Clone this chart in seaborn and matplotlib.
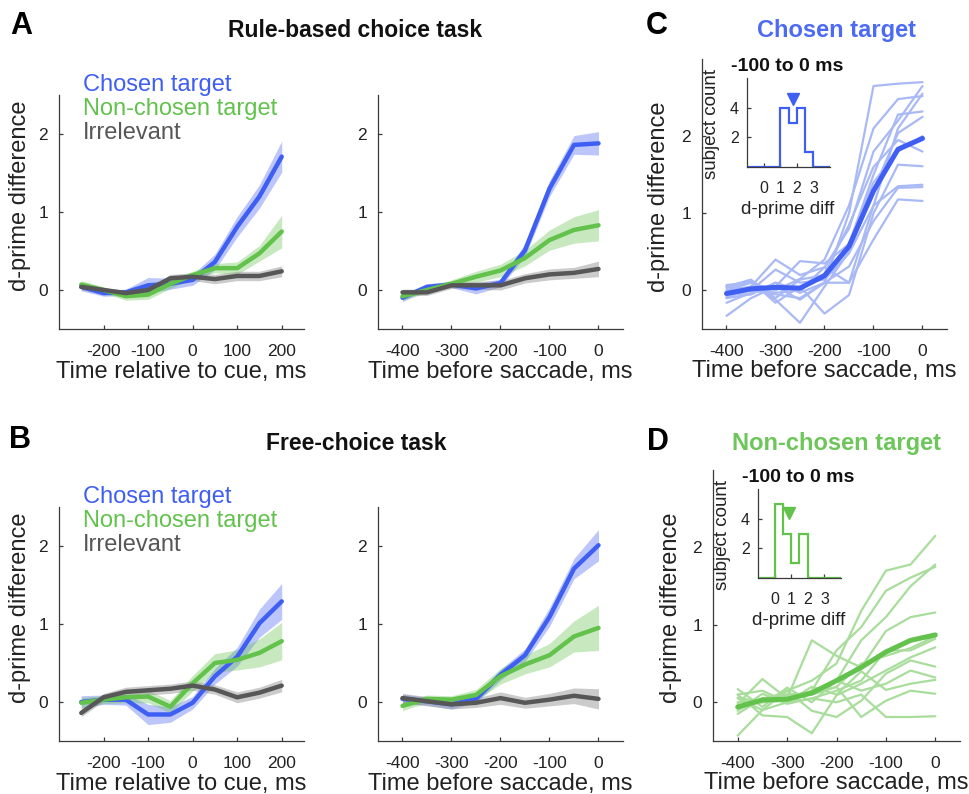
import numpy as np
import pandas as pd
import matplotlib
matplotlib.use('Agg')
import matplotlib.pyplot as plt
import seaborn as sns

# style
sns.set_style('ticks')
plt.rcParams['font.family'] = ['Liberation Sans', 'DejaVu Sans']
plt.rcParams['axes.unicode_minus'] = False

# time axes
t_cue = [-250, -200, -150, -100, -50, 0, 50, 100, 150, 200]
t_sac = [-400, -350, -300, -250, -200, -150, -100, -50, 0]

series_names = ['Chosen target', 'Non-chosen target', 'Irrelevant']

# rule-based task, cue aligned (mean, sem)
rule_cue_chosen = [0.04, -0.04, -0.03, 0.06, 0.08, 0.13, 0.36, 0.81, 1.20, 1.71]
rule_cue_chosen_sem = [0.05, 0.04, 0.04, 0.10, 0.07, 0.07, 0.10, 0.13, 0.15, 0.20]
rule_cue_nonchosen = [0.07, 0.00, -0.08, -0.06, 0.08, 0.19, 0.28, 0.28, 0.47, 0.75]
rule_cue_nonchosen_sem = [0.05, 0.04, 0.05, 0.06, 0.06, 0.05, 0.06, 0.08, 0.10, 0.21]
rule_cue_irrel = [0.04, 0.00, -0.04, 0.00, 0.15, 0.17, 0.14, 0.18, 0.18, 0.24]
rule_cue_irrel_sem = [0.04, 0.03, 0.04, 0.04, 0.05, 0.05, 0.06, 0.06, 0.06, 0.07]

# rule-based task, saccade aligned
rule_sac_chosen = [-0.10, 0.04, 0.07, 0.02, 0.09, 0.51, 1.30, 1.86, 1.88]
rule_sac_chosen_sem = [0.05, 0.04, 0.04, 0.07, 0.05, 0.08, 0.10, 0.12, 0.15]
rule_sac_nonchosen = [-0.08, 0.00, 0.08, 0.17, 0.25, 0.41, 0.64, 0.77, 0.83]
rule_sac_nonchosen_sem = [0.05, 0.04, 0.05, 0.07, 0.08, 0.10, 0.13, 0.17, 0.20]
rule_sac_irrel = [-0.03, -0.03, 0.06, 0.06, 0.06, 0.15, 0.20, 0.22, 0.27]
rule_sac_irrel_sem = [0.04, 0.04, 0.04, 0.05, 0.06, 0.06, 0.07, 0.07, 0.10]

# free-choice task, cue aligned
free_cue_chosen = [0.00, 0.03, 0.03, -0.16, -0.16, -0.01, 0.33, 0.58, 1.01, 1.29]
free_cue_chosen_sem = [0.08, 0.06, 0.07, 0.13, 0.10, 0.08, 0.10, 0.12, 0.18, 0.23]
free_cue_nonchosen = [-0.01, 0.03, 0.06, 0.07, -0.06, 0.24, 0.50, 0.54, 0.63, 0.78]
free_cue_nonchosen_sem = [0.07, 0.05, 0.07, 0.08, 0.08, 0.10, 0.12, 0.13, 0.18, 0.24]
free_cue_irrel = [-0.14, 0.06, 0.13, 0.15, 0.17, 0.21, 0.16, 0.06, 0.12, 0.21]
free_cue_irrel_sem = [0.05, 0.05, 0.06, 0.06, 0.06, 0.06, 0.06, 0.07, 0.07, 0.08]

# free-choice task, saccade aligned
free_sac_chosen = [0.04, 0.01, -0.03, 0.04, 0.35, 0.60, 1.09, 1.71, 2.01]
free_sac_chosen_sem = [0.06, 0.05, 0.06, 0.05, 0.07, 0.08, 0.12, 0.13, 0.20]
free_sac_nonchosen = [-0.05, 0.04, 0.03, 0.09, 0.33, 0.48, 0.60, 0.84, 0.95]
free_sac_nonchosen_sem = [0.06, 0.05, 0.05, 0.07, 0.10, 0.12, 0.15, 0.20, 0.29]
free_sac_irrel = [0.05, 0.01, -0.03, -0.01, 0.05, -0.01, 0.03, 0.08, 0.04]
free_sac_irrel_sem = [0.06, 0.06, 0.06, 0.06, 0.08, 0.07, 0.08, 0.10, 0.13]

# individual subjects, chosen target (panel C)
chosen_subjects = [
    [0.05, 0.00, -0.05, -0.10, 0.10, 1.00, 2.65, 2.68, 2.70],
    [-0.10, 0.05, 0.40, 0.20, 0.30, 0.80, 1.80, 2.20, 2.65],
    [0.00, 0.10, 0.00, 0.15, 0.40, 1.10, 2.10, 2.48, 2.52],
    [-0.33, -0.10, 0.05, 0.38, 0.35, 0.60, 1.50, 2.28, 2.32],
    [0.07, 0.10, -0.12, -0.42, 0.05, 0.50, 1.30, 2.04, 2.25],
    [-0.05, -0.05, 0.10, 0.00, 0.22, 0.85, 1.60, 1.95, 1.80],
    [0.03, 0.12, -0.16, 0.05, -0.30, -0.06, 1.00, 1.63, 1.61],
    [-0.08, 0.00, 0.27, 0.10, 0.14, 0.48, 1.10, 1.35, 1.37],
    [-0.16, -0.03, 0.05, -0.12, 0.10, 0.31, 0.90, 1.33, 1.34],
    [0.00, 0.05, -0.03, 0.00, 0.30, 0.10, 0.66, 1.18, 1.16],
    [-0.10, -0.05, 0.10, -0.03, 0.10, 0.10, 1.10, 2.10, 2.55],
    [0.05, 0.14, -0.10, 0.14, 0.20, 0.61, 1.40, 1.80, 2.00],
]
chosen_mean = [-0.04, 0.02, 0.04, 0.03, 0.19, 0.57, 1.29, 1.83, 1.97]

# individual subjects, non-chosen target (panel D)
nonchosen_subjects = [
    [-0.43, -0.10, 0.15, 0.28, 0.50, 1.18, 1.70, 1.78, 2.15],
    [0.06, 0.00, 0.02, 0.15, 0.67, 0.97, 1.44, 1.61, 1.75],
    [0.17, -0.06, 0.19, 0.00, 0.28, 0.80, 1.10, 1.50, 1.78],
    [-0.02, 0.30, 0.05, 0.80, 0.60, 0.45, 0.92, 1.10, 1.16],
    [-0.11, 0.11, -0.02, 0.05, 0.15, 0.28, 0.67, 0.67, 0.82],
    [0.10, -0.17, -0.19, -0.40, 0.09, 0.24, 0.41, 0.58, 0.71],
    [0.00, 0.02, 0.15, -0.11, -0.19, 0.02, 0.37, 0.54, 0.46],
    [-0.10, 0.05, 0.10, 0.12, 0.28, 0.15, 0.24, 0.41, 0.32],
    [0.05, -0.10, 0.00, 0.20, 0.10, 0.40, 0.16, 0.24, 0.29],
    [-0.05, 0.00, 0.05, 0.10, 0.20, -0.19, 0.02, 0.15, 0.11],
    [0.10, 0.15, 0.00, 0.05, 0.00, 0.10, -0.19, -0.19, -0.18],
    [-0.15, 0.05, 0.10, 0.10, 0.20, 0.50, 0.60, 0.70, 0.85],
]
nonchosen_mean = [-0.06, 0.03, 0.04, 0.12, 0.28, 0.45, 0.65, 0.80, 0.87]

# inset histograms (-100 to 0 ms), subject counts per 0.5 bin
hist_edges = [-1.0, -0.5, 0.0, 0.5, 1.0, 1.5, 2.0, 2.5, 3.0, 3.5, 4.0]
chosen_counts = [0, 0, 0, 0, 4, 3, 4, 1, 0, 0]
nonchosen_counts = [0, 0, 5, 3, 1, 3, 0, 0, 0, 0]
chosen_hist_mean = 1.79
nonchosen_hist_mean = 0.88

# colours
BLUE = '#3f5ef2'
GREEN = '#62c24c'
GRAY = '#575757'
LIGHT_BLUE = '#a9b9f6'
LIGHT_GREEN = '#a9dd9c'
AXC = '#3a3a3a'

fig = plt.figure(figsize=(9.7, 7.94), dpi=100)


def px_axes(left, top, w, h):
    return fig.add_axes([left / 970, 1 - (top + h) / 794, w / 970, h / 794])


def style_axes(ax, size=12.5, xpad=11, ypad=8):
    sns.despine(ax=ax)
    for s in ['left', 'bottom']:
        ax.spines[s].set_color(AXC)
        ax.spines[s].set_linewidth(0.9)
    ax.tick_params(direction='in', length=3, width=0.9, color=AXC,
                   labelsize=size, labelcolor='#222222')
    ax.tick_params(axis='x', pad=xpad)
    ax.tick_params(axis='y', pad=ypad)


def mean_panel(ax, t, data, xlim, xticks, xlabel, ylabel=True):
    cols = [BLUE, GREEN, GRAY]
    shade_alpha = [0.35, 0.35, 0.45]
    shade_cols = [BLUE, GREEN, '#8c8c8c']
    for (m, s), c, sc, a in zip(data, cols, shade_cols, shade_alpha):
        m = np.array(m)
        s = np.array(s)
        ax.fill_between(t, m - s, m + s, color=sc, alpha=a, lw=0)
        sns.lineplot(x=t, y=m, ax=ax, color=c, lw=3.2)
    ax.set_xlim(*xlim)
    ax.set_ylim(-0.5, 2.5)
    ax.set_xticks(xticks)
    ax.set_yticks([0, 1, 2])
    style_axes(ax)
    ax.set_xlabel(xlabel, fontsize=17, color='#222222', labelpad=2)
    ax.xaxis.set_label_coords(0.5, -0.135)
    if ylabel:
        ax.set_ylabel('d-prime difference', fontsize=17, color='#222222')
        ax.yaxis.set_label_coords(-0.115, 0.57)
    else:
        ax.set_ylabel('')


def legend_text(ax):
    for name, c, y in zip(series_names, [BLUE, GREEN, GRAY], [1.043, 0.94, 0.838]):
        ax.text(0.098, y, name, color=c, fontsize=17, va='center',
                transform=ax.transAxes)


def subject_panel(ax, subjects, mean, light, dark, ylab_x):
    df = pd.DataFrame([(i, t, v) for i, row in enumerate(subjects)
                       for t, v in zip(t_sac, row)],
                      columns=['subject', 'time', 'dprime'])
    sns.lineplot(data=df, x='time', y='dprime', units='subject',
                 estimator=None, color=light, lw=1.6, ax=ax)
    sns.lineplot(x=t_sac, y=mean, color=dark, lw=3.6, ax=ax)
    ax.set_xlim(-450, 50)
    ax.set_ylim(-0.5, 3.0)
    ax.set_xticks([-400, -300, -200, -100, 0])
    ax.set_yticks([0, 1, 2])
    style_axes(ax)
    ax.set_xlabel('Time before saccade, ms', fontsize=17, color='#222222')
    ax.xaxis.set_label_coords(0.5, -0.115)
    ax.set_ylabel('d-prime difference', fontsize=17, color='#222222')
    ax.yaxis.set_label_coords(ylab_x, 0.49)


def hist_inset(ax, counts, mean_val, col, marker_y):
    ax.stairs(counts, hist_edges, color=col, lw=1.6, baseline=0)
    ax.plot([mean_val], [marker_y], marker='v', color=col, ms=9, ls='none')
    ax.set_xlim(-1, 4)
    ax.set_ylim(0, 6)
    ax.set_xticks([0, 1, 2, 3])
    ax.set_yticks([2, 4])
    ax.patch.set_alpha(0)
    style_axes(ax, size=11.5, xpad=10, ypad=6)
    ax.set_title('-100 to 0 ms', fontsize=14, fontweight='bold', x=0.48,
                 pad=5, color='#111111')
    ax.set_ylabel('subject count', fontsize=13.5, color='#222222')
    ax.yaxis.set_label_coords(-0.33, 0.48)
    ax.set_xlabel('d-prime diff', fontsize=13.5, color='#222222')
    ax.xaxis.set_label_coords(0.49, -0.38)


# panel A
ax_a1 = px_axes(59, 95, 245, 234)
mean_panel(ax_a1, t_cue,
           [(rule_cue_chosen, rule_cue_chosen_sem),
            (rule_cue_nonchosen, rule_cue_nonchosen_sem),
            (rule_cue_irrel, rule_cue_irrel_sem)],
           (-300, 250), [-200, -100, 0, 100, 200],
           'Time relative to cue, ms')
legend_text(ax_a1)

ax_a2 = px_axes(378, 95, 245, 234)
mean_panel(ax_a2, t_sac,
           [(rule_sac_chosen, rule_sac_chosen_sem),
            (rule_sac_nonchosen, rule_sac_nonchosen_sem),
            (rule_sac_irrel, rule_sac_irrel_sem)],
           (-450, 50), [-400, -300, -200, -100, 0],
           'Time before saccade, ms', ylabel=False)

# panel B
ax_b1 = px_axes(59, 507, 245, 234)
mean_panel(ax_b1, t_cue,
           [(free_cue_chosen, free_cue_chosen_sem),
            (free_cue_nonchosen, free_cue_nonchosen_sem),
            (free_cue_irrel, free_cue_irrel_sem)],
           (-300, 250), [-200, -100, 0, 100, 200],
           'Time relative to cue, ms')
legend_text(ax_b1)

ax_b2 = px_axes(378, 507, 245, 234)
mean_panel(ax_b2, t_sac,
           [(free_sac_chosen, free_sac_chosen_sem),
            (free_sac_nonchosen, free_sac_nonchosen_sem),
            (free_sac_irrel, free_sac_irrel_sem)],
           (-450, 50), [-400, -300, -200, -100, 0],
           'Time before saccade, ms', ylabel=False)

# panel C
ax_c = px_axes(702, 59, 245, 270)
subject_panel(ax_c, chosen_subjects, chosen_mean, LIGHT_BLUE, BLUE, -0.13)
ax_ci = px_axes(747, 78, 83, 89)
hist_inset(ax_ci, chosen_counts, chosen_hist_mean, BLUE, 4.6)

# panel D
ax_d = px_axes(713, 470, 247, 271)
subject_panel(ax_d, nonchosen_subjects, nonchosen_mean, LIGHT_GREEN, GREEN, -0.125)
ax_di = px_axes(758, 489, 83, 89)
hist_inset(ax_di, nonchosen_counts, nonchosen_hist_mean, GREEN, 4.4)

# titles and panel letters
fig.text(0.366, 0.962, 'Rule-based choice task', fontsize=16.5, fontweight='bold',
         ha='center', va='center', color='#111111')
fig.text(0.367, 0.441, 'Free-choice task', fontsize=16.5, fontweight='bold',
         ha='center', va='center', color='#111111')
fig.text(0.862, 0.962, 'Chosen target', fontsize=17, fontweight='bold',
         ha='center', va='center', color='#4d6af3')
fig.text(0.862, 0.441, 'Non-chosen target', fontsize=17, fontweight='bold',
         ha='center', va='center', color='#6cc659')
for letter, x, y in [('A', 0.0216, 0.967), ('B', 0.0206, 0.446),
                     ('C', 0.677, 0.967), ('D', 0.678, 0.443)]:
    fig.text(x, y, letter, fontsize=22, fontweight='bold', ha='center',
             va='center', color='black')

fig.savefig('out.png', dpi=100)
